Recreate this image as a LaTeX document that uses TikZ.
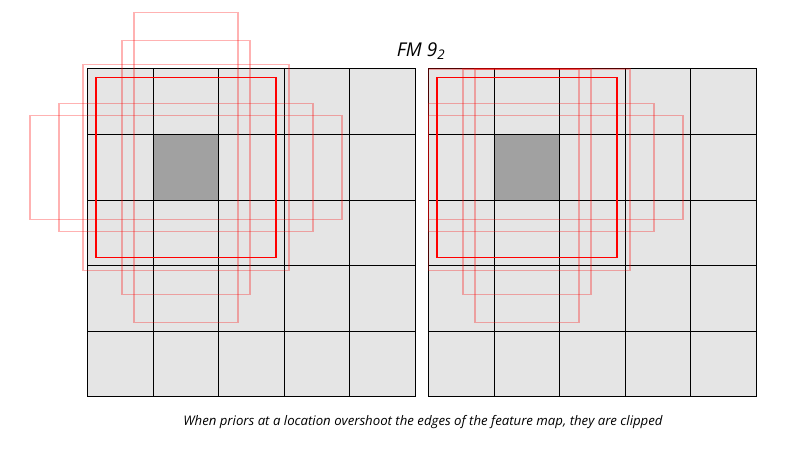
\documentclass[tikz,border=0pt]{standalone}
\usepackage{fontspec}
\setmainfont{Open Sans}
\usepackage{tikz}
\usetikzlibrary{positioning,calc}

\begin{document}
\begin{tikzpicture}[x=1pt,y=-1pt,line width=1pt]
\tikzstyle{cell} = [fill=black!10,draw=black]
\tikzstyle{centre} = [fill=black!37,draw=black]
\tikzstyle{prior} = [draw=red,line width=1.8pt]
\tikzstyle{extra} = [draw=red,opacity=0.3,line width=1.8pt]

\useasboundingbox (0,0) rectangle (794,449);

% the two 5x5 feature maps
\foreach \ox in {87.5,428.5} {
  \foreach \i in {0,...,4}
    \foreach \j in {0,...,4}
      \draw[cell] (\ox+65.5*\i,69+65.5*\j) rectangle +(65.5,65.5);
  \draw[centre] (\ox+65.5,134.5) rectangle +(65.5,65.5);
}

% priors at the location, left: as they are
\foreach \w/\h in {103/103,64/127,52/155,127/64,156/52}
  \draw[extra] (186-\w,167.5-\h) rectangle (186+\w,167.5+\h);
\draw[prior] (96,77.5) rectangle (276,257.5);

% right: clipped to the map
\foreach \w/\h in {103/103,64/127,52/155,127/64,156/52}
  \draw[extra] ({max(428.5,527-\w)},{max(69,167.5-\h)}) rectangle ({min(756,527+\w)},{min(396.5,167.5+\h)});
\draw[prior] (437,77.5) rectangle (617,257.5);

\node (title) at (421,51) {\fontsize{19}{22}\selectfont\itshape FM 9\textsubscript{2}};
\node (caption) at (423,422) {\fontsize{13.2}{15}\selectfont\itshape When priors at a location overshoot the edges of the feature map, they are clipped};
\end{tikzpicture}
\end{document}
